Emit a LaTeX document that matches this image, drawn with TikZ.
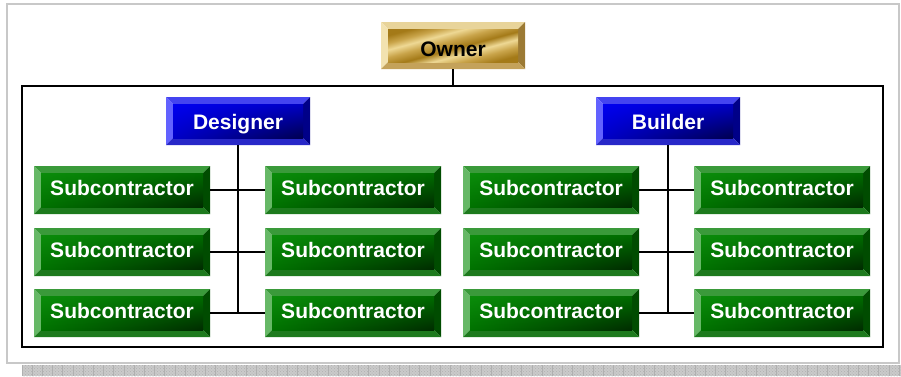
\documentclass[tikz,border=0pt]{standalone}
\usepackage{fontspec}
\setmainfont{Liberation Sans}
\usetikzlibrary{patterns,shadings}

% bevel colours
\definecolor{grTop}{HTML}{3A9A3A}
\definecolor{grLeft}{HTML}{66B866}
\definecolor{grRight}{HTML}{004C00}
\definecolor{grBot}{HTML}{1D7A1D}
\definecolor{grUL}{HTML}{0A8C0A}
\definecolor{grUR}{HTML}{006C00}
\definecolor{grLL}{HTML}{007200}
\definecolor{grLR}{HTML}{002C00}

\definecolor{blTop}{HTML}{4444F0}
\definecolor{blLeft}{HTML}{6262FF}
\definecolor{blRight}{HTML}{000088}
\definecolor{blBot}{HTML}{2828C8}
\definecolor{blUL}{HTML}{0000F0}
\definecolor{blUR}{HTML}{0000C4}
\definecolor{blLL}{HTML}{0000C8}
\definecolor{blLR}{HTML}{000050}

\definecolor{goTop}{HTML}{E8D49A}
\definecolor{goLeft}{HTML}{F2E2B0}
\definecolor{goRight}{HTML}{9C7A34}
\definecolor{goBot}{HTML}{C4A25A}
\definecolor{goA}{HTML}{A47A18}
\definecolor{goB}{HTML}{EED894}
\definecolor{goC}{HTML}{C9A44A}

\definecolor{frameGray}{HTML}{C8C8C8}
\definecolor{bandGray}{HTML}{CACACA}
\definecolor{bandLine}{HTML}{B0B0B0}

\pgfdeclarehorizontalshading{goldstreak}{100bp}{%
  color(0bp)=(goA); color(25bp)=(goA); color(33bp)=(goC); color(40bp)=(goB);
  color(47bp)=(goA); color(55bp)=(goC); color(62bp)=(goB); color(68bp)=(goC);
  color(75bp)=(goA); color(100bp)=(goA)}

% bevelled face: #1 top, #2 left, #3 right, #4 bottom, #5 face shading options
\newcommand\bevelfaces[5]{%
  \path (path picture bounding box.north west) coordinate (bvnw)
        (path picture bounding box.north east) coordinate (bvne)
        (path picture bounding box.south west) coordinate (bvsw)
        (path picture bounding box.south east) coordinate (bvse);
  \fill[#1] (bvnw) -- (bvne) -- ([shift={(-7pt,-7pt)}]bvne) -- ([shift={(7pt,-7pt)}]bvnw) -- cycle;
  \fill[#2] (bvnw) -- (bvsw) -- ([shift={(7pt,7pt)}]bvsw) -- ([shift={(7pt,-7pt)}]bvnw) -- cycle;
  \fill[#3] (bvne) -- (bvse) -- ([shift={(-7pt,7pt)}]bvse) -- ([shift={(-7pt,-7pt)}]bvne) -- cycle;
  \fill[#4] (bvsw) -- (bvse) -- ([shift={(-7pt,7pt)}]bvse) -- ([shift={(7pt,7pt)}]bvsw) -- cycle;
  \shade[#5] ([shift={(7pt,-7pt)}]bvnw) rectangle ([shift={(-7pt,7pt)}]bvse);
}

\tikzset{
  box/.style={rectangle, inner sep=0pt, text depth=0pt,
    font=\fontsize{21}{25}\selectfont\bfseries},
  subbox/.style={box, minimum width=176, minimum height=48, text=white,
    text height=15pt, text depth=4pt,
    path picture={\bevelfaces{grTop}{grLeft}{grRight}{grBot}
      {upper left=grUL, upper right=grUR, lower left=grLL, lower right=grLR}}},
  leadbox/.style={box, minimum width=144, minimum height=48, text=white,
    text height=17pt,
    path picture={\bevelfaces{blTop}{blLeft}{blRight}{blBot}
      {upper left=blUL, upper right=blUR, lower left=blLL, lower right=blLR}}},
  ownbox/.style={box, minimum width=144, minimum height=47, text=black,
    text height=22pt,
    path picture={\bevelfaces{goTop}{goLeft}{goRight}{goBot}
      {shading=goldstreak, shading angle=105}}},
  link/.style={draw=black, line width=1.4pt},
}

\begin{document}
\begin{tikzpicture}[x=1pt, y=-1pt]
\useasboundingbox (0,0) rectangle (901,376);

% page frame and its shadow band
\draw[frameGray, line width=2pt] (7,4) rectangle (899,363);
\fill[bandGray] (22,365) rectangle (901,376);
\fill[pattern=crosshatch dots, pattern color=bandLine] (22,365) rectangle (901,376);
\foreach \i in {0,...,86} {
  \draw[bandLine, line width=0.7pt] (22+10.2*\i,365) -- (22+10.2*\i,376);
}

% project team frame
\node[draw=black, line width=1.8pt, minimum width=861, minimum height=261, inner sep=0pt]
  (team) at (452.5,216.5) {};

% owner
\node[ownbox] (owner) at (453,45.5) {Owner};

% designer and builder
\node[leadbox] (des) at (238,121) {Designer};
\node[leadbox] (bui) at (668,121) {Builder};

% subcontractors
\foreach \r/\y in {1/190,2/252,3/313} {
  \node[subbox] (dl\r) at (122,\y) {Subcontractor};
  \node[subbox] (dr\r) at (353,\y) {Subcontractor};
  \node[subbox] (bl\r) at (551,\y) {Subcontractor};
  \node[subbox] (br\r) at (782,\y) {Subcontractor};
}

% connectors
\draw[link] (owner.south) -- (owner.south |- team.north);
\draw[link] (des.south) -- (des.south |- dl3.east);
\draw[link] (bui.south) -- (bui.south |- bl3.east);
\foreach \r in {1,2,3} {
  \draw[link] (dl\r.east) -- (dr\r.west);
  \draw[link] (bl\r.east) -- (br\r.west);
}
\end{tikzpicture}
\end{document}
